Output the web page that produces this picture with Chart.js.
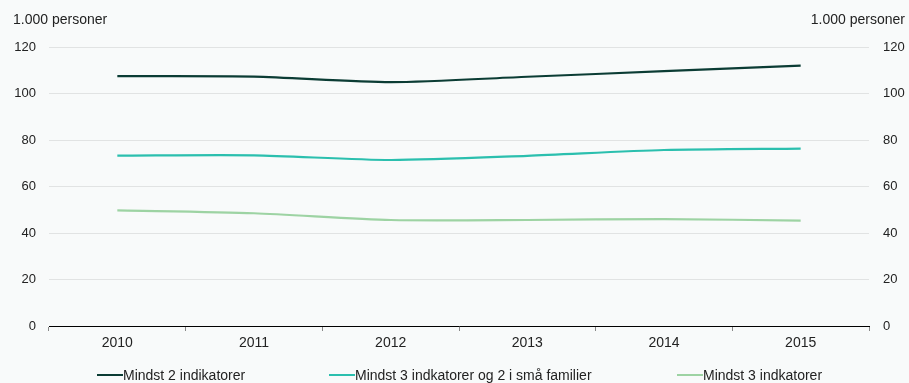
<!DOCTYPE html>
<html>
<head>
<meta charset="utf-8">
<script src="https://cdn.jsdelivr.net/npm/chart.js@4/dist/chart.umd.min.js"></script>
<style>
  html, body { margin: 0; padding: 0; background: #f8fafa; }
  #wrap { position: relative; width: 909px; height: 383px; font-family: "Liberation Sans", Arial, sans-serif; color: #222; }
  canvas { position: absolute; left: 0; top: 0; }
  .unit { position: absolute; top: 11px; font-size: 14px; line-height: 16px; white-space: nowrap; }
  .leg { position: absolute; top: 367px; font-size: 14px; line-height: 16px; white-space: nowrap; display: flex; align-items: center; }
  .leg span.sw { display: inline-block; width: 26px; height: 2px; margin-right: 0px; }
</style>
</head>
<body>
<div id="wrap">
  <canvas id="c" width="909" height="383"></canvas>
  <div class="unit" style="left:13px;">1.000 personer</div>
  <div class="unit" style="right:4px;">1.000 personer</div>
  <div class="leg" style="left:97px;"><span class="sw" style="background:#0b3c34"></span>Mindst 2 indikatorer</div>
  <div class="leg" style="left:329px;"><span class="sw" style="background:#2bbfae"></span>Mindst 3 indkatorer og 2 i små familier</div>
  <div class="leg" style="left:677px;"><span class="sw" style="background:#9dd3a3"></span>Mindst 3 indkatorer</div>
</div>
<script>
const years = ["2010", "2011", "2012", "2013", "2014", "2015"];
const mindst2 = [107.5, 107.3, 104.9, 107.2, 109.6, 112.0];
const mindst3og2 = [73.3, 73.4, 71.4, 73.2, 75.7, 76.3];
const mindst3 = [49.7, 48.5, 45.6, 45.6, 46.0, 45.3];
const seriesNames = ["Mindst 2 indikatorer", "Mindst 3 indkatorer og 2 i små familier", "Mindst 3 indkatorer"];
const yTicks = [0, 20, 40, 60, 80, 100, 120];

const colors = ["#0b3c34", "#2bbfae", "#9dd3a3"];
const font = "'Liberation Sans', Arial, sans-serif";

new Chart(document.getElementById("c"), {
  type: "line",
  data: {
    labels: years,
    datasets: [mindst2, mindst3og2, mindst3].map((d, i) => ({
      label: seriesNames[i],
      data: d,
      borderColor: colors[i],
      backgroundColor: colors[i],
      borderWidth: 2.2,
      pointRadius: 0,
      tension: 0.25,
      fill: false
    }))
  },
  options: {
    responsive: false,
    animation: false,
    devicePixelRatio: 1,
    layout: { padding: { top: 47, bottom: 0, left: 0, right: 0 } },
    plugins: { legend: { display: false }, tooltip: { enabled: false } },
    scales: {
      x: {
        offset: true,
        grid: { display: true, offset: true, drawOnChartArea: false, drawTicks: true, tickLength: 5, color: "#888" },
        border: { display: true, color: "#000", width: 1 },
        ticks: { color: "#222", font: { family: font, size: 14 }, padding: 4, maxRotation: 0 },
        afterFit: s => { s.height = 57; }
      },
      y: {
        position: "left",
        min: 0, max: 120,
        afterBuildTicks: s => { s.ticks = yTicks.map(v => ({ value: v })); },
        grid: { color: "#e1e3e3", lineWidth: 1, drawTicks: false },
        border: { display: false },
        ticks: { color: "#222", font: { family: font, size: 13 }, padding: 13 },
        afterFit: s => { s.width = 49; }
      },
      y2: {
        position: "right",
        min: 0, max: 120,
        afterBuildTicks: s => { s.ticks = yTicks.map(v => ({ value: v })); },
        grid: { display: false, drawTicks: false },
        border: { display: false },
        ticks: { color: "#222", font: { family: font, size: 13 }, padding: 14 },
        afterFit: s => { s.width = 40; }
      }
    }
  }
});
</script>
</body>
</html>
